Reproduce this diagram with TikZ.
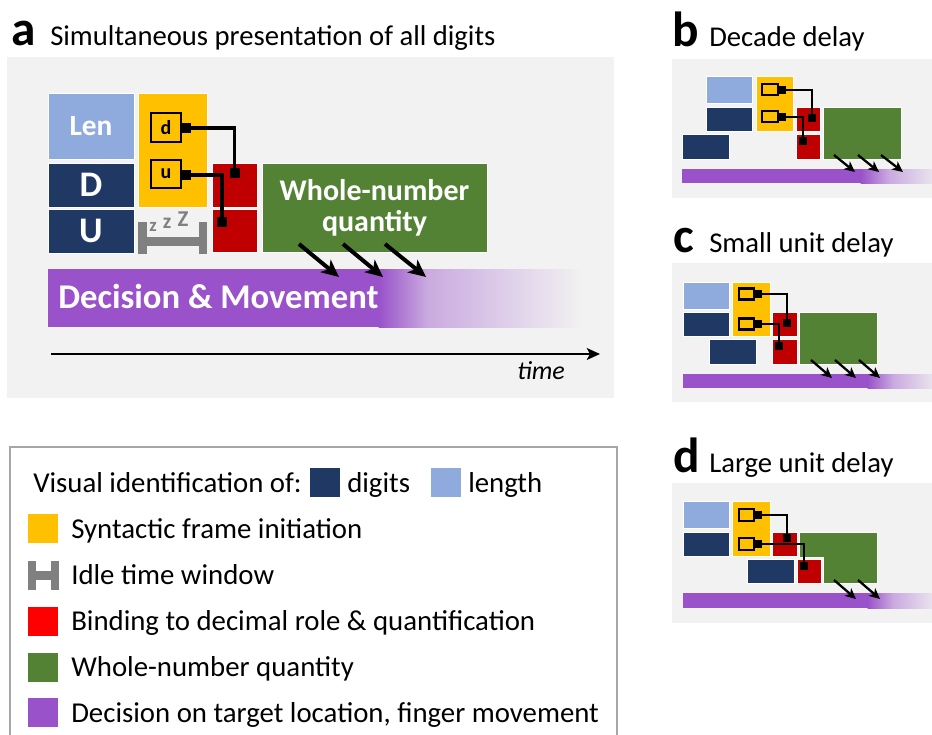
\documentclass[tikz,border=0pt]{standalone}
\usepackage{fontspec}
\setmainfont{Carlito}
\usetikzlibrary{arrows.meta, calc}

\definecolor{panelbg}{HTML}{F2F2F2}
\definecolor{lenblue}{HTML}{8FAADC}
\definecolor{digblue}{HTML}{203864}
\definecolor{synyel}{HTML}{FFC000}
\definecolor{bindred}{HTML}{C00000}
\definecolor{legred}{HTML}{FF0000}
\definecolor{wholegreen}{HTML}{548235}
\definecolor{decpurple}{HTML}{9952C9}
\definecolor{idlegray}{HTML}{808080}
\definecolor{framegray}{HTML}{A6A6A6}

\pgfdeclarehorizontalshading{fadelong}{100bp}{color(0bp)=(decpurple); color(25bp)=(decpurple); color(37bp)=(decpurple!45!panelbg); color(75bp)=(panelbg); color(100bp)=(panelbg)}
\pgfdeclarehorizontalshading{fadeshort}{100bp}{color(0bp)=(decpurple); color(25bp)=(decpurple); color(45bp)=(decpurple!45!panelbg); color(75bp)=(decpurple!10!panelbg); color(100bp)=(decpurple!10!panelbg)}

\tikzset{
  sz/.style 2 args={minimum width=#1*0.75pt, minimum height=#2*0.75pt},
  blk/.style={rectangle, inner sep=0pt, outer sep=0pt, draw=white, line width=0.6pt, text=white, font=\bfseries},
  tag/.style={rectangle, inner sep=0pt, outer sep=0pt, draw=black, line width=1.9pt, font=\bfseries\fontsize{15}{15}\selectfont},
  smalltag/.style={rectangle, inner sep=0pt, outer sep=0pt, draw=black, line width=1.6pt},
  knob/.style={rectangle, inner sep=0pt, outer sep=0pt, fill=black, sz={10}{10}},
  smallknob/.style={rectangle, inner sep=0pt, outer sep=0pt, fill=black, sz={8}{8}},
  wire/.style={line width=2.3pt},
  smallwire/.style={line width=1.5pt},
  push/.style={line width=3pt, -{Stealth[length=13pt, width=12pt, inset=3.5pt]}},
  smallpush/.style={line width=1.7pt, -{Stealth[length=8pt, width=7.5pt, inset=2.2pt]}},
  letter/.style={font=\bfseries\fontsize{37}{37}\selectfont, anchor=base west, inner sep=0pt},
  ttl/.style={font=\fontsize{21.5}{25}\selectfont, anchor=base west, inner sep=0pt},
  legtxt/.style={font=\fontsize{21.6}{25}\selectfont, anchor=base west, inner sep=0pt},
  swatch/.style={rectangle, inner sep=0pt, outer sep=0pt, sz={30}{29}},
  snooze/.style={text=idlegray, inner sep=0pt, font=\bfseries\fontsize{15}{15}\selectfont},
}

\begin{document}
\begin{tikzpicture}[x=0.75pt, y=-0.75pt]
    \useasboundingbox (0,0) rectangle (932,735);

    % panel a
    \node[letter] (la) at (11,46) {a};
    \node[ttl] (ta) at (50,46) {Simultaneous presentation of all digits};
    \fill[panelbg] (7,57) rectangle (614,398);

    \node[blk, fill=lenblue, sz={86}{66}, font=\bfseries\fontsize{22}{22}\selectfont] (lenA) at (91,126) {Len};
    \node[blk, fill=digblue, sz={86}{44}, font=\bfseries\fontsize{27}{27}\selectfont] (dA) at (91,185) {D};
    \node[blk, fill=digblue, sz={86}{44}, font=\bfseries\fontsize{27}{27}\selectfont] (uA) at (91,231) {U};
    \node[blk, fill=synyel, sz={69}{114}] (synA) at (172.5,150) {};
    \node[blk, fill=bindred, sz={45}{44}] (bdA) at (234.5,185) {};
    \node[blk, fill=bindred, sz={45}{43}] (buA) at (234.5,230.5) {};
    \node[blk, fill=wholegreen, sz={225}{89}, align=center, font=\bfseries\fontsize{22.5}{23}\selectfont] (wholeA) at (374.5,207.5) {Whole-number\\quantity};

    \node[tag, sz={30}{29}] (tdA) at (166,127.5) {d};
    \node[tag, sz={30}{28}] (tuA) at (166,174) {u};
    \node[knob] (kdA) at (186,128) {};
    \node[knob] (kuA) at (186,175) {};
    \node[knob] (pdA) at (234.5,173) {};
    \node[knob] (puA) at (222,222) {};
    \draw[wire] (kdA.center) -| (pdA.center);
    \draw[wire] (kuA.center) -| (puA.center);

    \fill[idlegray] (138,222) rectangle (147,254);
    \fill[idlegray] (199,222) rectangle (207,254);
    \fill[idlegray] (147,237) rectangle (199,246);
    \node[snooze, font=\bfseries\fontsize{14}{14}\selectfont] (z1) at (153,227) {z};
    \node[snooze, font=\bfseries\fontsize{16}{16}\selectfont] (z2) at (167,223) {z};
    \node[snooze, font=\bfseries\fontsize{17}{17}\selectfont] (z3) at (183,219) {Z};

    \fill[decpurple] (48,269) rectangle (379,327);
    \shade[shading=fadelong] (378.5,269) rectangle (583,327);
    \node[font=\bfseries\fontsize{26}{26}\selectfont, text=white, anchor=base west, inner sep=0pt] (decA) at (58,308) {Decision \& Movement};

    \coordinate (s1) at (299,244); \coordinate (e1) at (339,277);
    \coordinate (s2) at (343,244); \coordinate (e2) at (383,277);
    \coordinate (s3) at (385,244); \coordinate (e3) at (426,277);
    \draw[push] (s1) -- (e1);
    \draw[push] (s2) -- (e2);
    \draw[push] (s3) -- (e3);

    \coordinate (t0) at (51,354);
    \coordinate (t1) at (600,354);
    \draw[line width=0.9pt, -{Stealth[length=10pt, width=9pt, inset=2.5pt]}] (t0) -- (t1);
    \node[font=\itshape\fontsize{19.5}{20}\selectfont, anchor=base, inner sep=0pt] (timeA) at (541,379) {time};

    % panel b
    \node[letter] (lb) at (672,47) {b};
    \node[ttl] (tb) at (709,47) {Decade delay};
    \fill[panelbg] (672,59) rectangle (932,198);
    \node[blk, fill=lenblue, sz={46}{27}] (lenB) at (729,89.5) {};
    \node[blk, fill=digblue, sz={46}{24}] (dB) at (729,119) {};
    \node[blk, fill=digblue, sz={47}{25}] (uB) at (705.5,146.5) {};
    \node[blk, fill=synyel, sz={37}{55}] (synB) at (774.5,103.5) {};
    \node[blk, fill=bindred, sz={24}{24}] (bdB) at (808,119) {};
    \node[blk, fill=bindred, sz={24}{25}] (buB) at (808,146.5) {};
    \node[blk, fill=wholegreen, sz={78}{52}] (wholeB) at (862,133) {};
    \node[smalltag, sz={16}{11}] (tdB) at (770,89.5) {};
    \node[smalltag, sz={16}{11}] (tuB) at (770,116.5) {};
    \node[smallknob] (kdB) at (781.5,90) {};
    \node[smallknob] (kuB) at (781.5,117) {};
    \node[smallknob] (pdB) at (812,118) {};
    \node[smallknob] (puB) at (803,141) {};
    \draw[smallwire] (kdB.center) -| (pdB.center);
    \draw[smallwire] (kuB.center) -| (puB.center);
    \fill[decpurple] (682,169) rectangle (861,183);
    \shade[shading=fadeshort] (860.5,169) rectangle (932,183);
    \coordinate (bs1) at (834,155); \coordinate (be1) at (855,172);
    \coordinate (bs2) at (858,155); \coordinate (be2) at (879,172);
    \coordinate (bs3) at (881,155); \coordinate (be3) at (903,172);
    \draw[smallpush] (bs1) -- (be1);
    \draw[smallpush] (bs2) -- (be2);
    \draw[smallpush] (bs3) -- (be3);

    % panel c
    \node[letter] (lc) at (673,252) {c};
    \node[ttl] (tc) at (709,252) {Small unit delay};
    \fill[panelbg] (672,263) rectangle (932,402);
    \node[blk, fill=lenblue, sz={46}{27}] (lenC) at (706,295.5) {};
    \node[blk, fill=digblue, sz={46}{24}] (dC) at (706,324) {};
    \node[blk, fill=digblue, sz={47}{25}] (uC) at (732.5,351.5) {};
    \node[blk, fill=synyel, sz={38}{54}] (synC) at (751,309) {};
    \node[blk, fill=bindred, sz={25}{24}] (bdC) at (784.5,324) {};
    \node[blk, fill=bindred, sz={25}{25}] (buC) at (784.5,351.5) {};
    \node[blk, fill=wholegreen, sz={78}{52}] (wholeC) at (838,338) {};
    \node[smalltag, sz={15}{11}] (tdC) at (746.5,294) {};
    \node[smalltag, sz={15}{11}] (tuC) at (746.5,324) {};
    \node[smallknob] (kdC) at (757.5,294) {};
    \node[smallknob] (kuC) at (757.5,324) {};
    \node[smallknob] (pdC) at (787,323) {};
    \node[smallknob] (puC) at (779,346) {};
    \draw[smallwire] (kdC.center) -| (pdC.center);
    \draw[smallwire] (kuC.center) -| (puC.center);
    \fill[decpurple] (683,374) rectangle (868,388);
    \shade[shading=fadeshort] (867.5,374) rectangle (932,388);
    \coordinate (cs1) at (811,360); \coordinate (ce1) at (832,378);
    \coordinate (cs2) at (835,360); \coordinate (ce2) at (856,378);
    \coordinate (cs3) at (859,360); \coordinate (ce3) at (880,378);
    \draw[smallpush] (cs1) -- (ce1);
    \draw[smallpush] (cs2) -- (ce2);
    \draw[smallpush] (cs3) -- (ce3);

    % panel d
    \node[letter] (ld) at (673,472) {d};
    \node[ttl] (td) at (709,472) {Large unit delay};
    \fill[panelbg] (672,483) rectangle (932,623);
    \node[blk, fill=lenblue, sz={46}{27}] (lenD) at (706,514.5) {};
    \node[blk, fill=digblue, sz={46}{24}] (dD) at (706,544) {};
    \node[blk, fill=digblue, sz={47}{24}] (uD) at (770.5,571) {};
    \node[blk, fill=synyel, sz={38}{55}] (synD) at (751,528.5) {};
    \node[blk, fill=bindred, sz={25}{24}] (bdD) at (784.5,544) {};
    \node[blk, fill=bindred, sz={24}{24}] (buD) at (809,571) {};
    \filldraw[fill=wholegreen, draw=white, line width=0.6pt] (799,532) -- (877,532) -- (877,583) -- (823,583) -- (823,557) -- (799,557) -- cycle;
    \node[smalltag, sz={15}{12}] (tdD) at (746.5,515) {};
    \node[smalltag, sz={15}{12}] (tuD) at (746.5,544) {};
    \node[smallknob] (kdD) at (757.5,515) {};
    \node[smallknob] (kuD) at (757.5,544) {};
    \node[smallknob] (pdD) at (787,538) {};
    \node[smallknob] (puD) at (804,566) {};
    \draw[smallwire] (kdD.center) -| (pdD.center);
    \draw[smallwire] (kuD.center) -| (puD.center);
    \fill[decpurple] (683,593) rectangle (868,608);
    \shade[shading=fadeshort] (867.5,593) rectangle (932,608);
    \coordinate (ds1) at (834,580); \coordinate (de1) at (856,599);
    \coordinate (ds2) at (858,580); \coordinate (de2) at (880,599);
    \draw[smallpush] (ds1) -- (de1);
    \draw[smallpush] (ds2) -- (de2);

    % legend
    \draw[framegray, line width=1.5pt] (10,760) -- (10,447) -- (617,447) -- (617,760);
    \node[legtxt] (visual) at (33,492) {Visual identification of:};
    \node[swatch, fill=digblue] (swdig) at (324.5,482.5) {};
    \node[legtxt] (digits) at (347,492) {digits};
    \node[swatch, fill=lenblue] (swlen) at (445.5,482.5) {};
    \node[legtxt] (length) at (468,492) {length};

    \node[swatch, fill=synyel] (swsyn) at (43,528) {};
    \node[legtxt] (syn) at (71,538) {Syntactic frame initiation};
    \fill[idlegray] (28,561) rectangle (36,590);
    \fill[idlegray] (51,561) rectangle (59,590);
    \fill[idlegray] (36,571) rectangle (51,580);
    \node[legtxt] (idle) at (71,584) {Idle time window};
    \node[swatch, fill=legred] (swbind) at (43,621) {};
    \node[legtxt] (bind) at (71,630) {Binding to decimal role \& quantification};
    \node[swatch, fill=wholegreen] (swwhole) at (43,667) {};
    \node[legtxt] (whole) at (71,676) {Whole-number quantity};
    \node[swatch, fill=decpurple] (swdec) at (43,712) {};
    \node[legtxt] (dec) at (71,722) {Decision on target location, finger movement};
\end{tikzpicture}
\end{document}
